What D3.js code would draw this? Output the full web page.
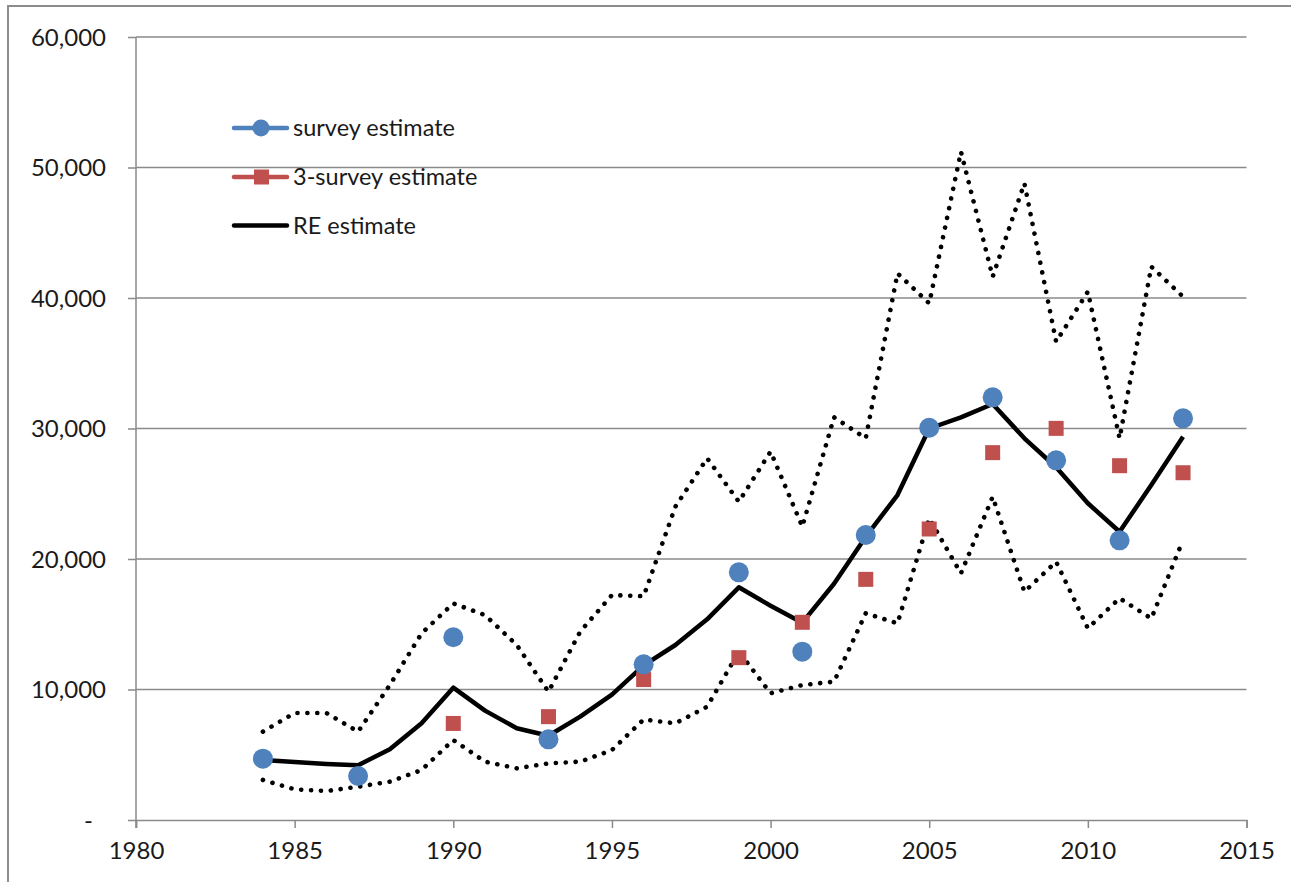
<!DOCTYPE html>
<html>
<head>
<meta charset="utf-8">
<script src="https://cdn.jsdelivr.net/npm/d3@7"></script>
<style>
  body { margin:0; background:#fff; }
  svg text { font-family: Lato, "Open Sans", sans-serif; fill:#1a1a1a; }
</style>
</head>
<body>
<script>
// survey estimate (blue dots)
var surveyYears = [1984,1987,1990,1993,1996,1999,2001,2003,2005,2007,2009,2011,2013]
var surveyVals  = [4700,3370,14000,6180,11930,18980,12900,21840,30060,32390,27560,21430,30780]

// 3-survey estimate (red squares)
var threeYears = [1990,1993,1996,1999,2001,2003,2005,2007,2009,2011,2013]
var threeVals  = [7400,7920,10760,12440,15150,18440,22300,28150,30010,27150,26610]

// RE estimate, yearly, with dotted bounds
var reYears = [1984,1985,1986,1987,1988,1989,1990,1991,1992,1993,1994,1995,1996,1997,1998,1999,
               2000,2001,2002,2003,2004,2005,2006,2007,2008,2009,2010,2011,2012,2013]
var reVals  = [4600,4450,4300,4200,5420,7410,10140,8380,7030,6460,7920,9600,11850,13410,15380,17830,
               16420,15120,18100,21710,24900,30000,30850,31880,29250,27030,24270,22090,25670,29370]
var reUpper = [6770,8200,8200,6770,10340,14300,16600,15700,13410,9830,14430,17240,17150,24010,27720,24390,
               28230,22480,30860,29250,41890,39590,51210,41630,48790,36650,40480,29250,42400,40100]
var reLower = [3070,2350,2220,2550,2940,3830,6130,4470,3960,4340,4470,5360,7700,7410,8680,12900,
               9710,10340,10600,15840,15070,23110,18900,24770,17490,19790,14690,16990,15440,21460]

var xTicks = [1980,1985,1990,1995,2000,2005,2010,2015]
var yTicks = [0,10000,20000,30000,40000,50000,60000]

var legendItems = ["survey estimate","3-survey estimate","RE estimate"]

var W = 1291, H = 882
var blue = "#4F81BD", red = "#C0504D"

var svg = d3.select("body").append("svg").attr("width",W).attr("height",H)

// outer chart frame
svg.append("rect").attr("x",8).attr("y",6).attr("width",W+20).attr("height",H+20)
  .attr("fill","none").attr("stroke","#8c8c8c").attr("stroke-width",2)

var x = d3.scaleLinear().domain([1980,2015]).range([136,1246.5])
var y = d3.scaleLinear().domain([0,60000]).range([820,37])

// gridlines
svg.append("g").selectAll("line").data(yTicks.slice(1)).enter().append("line")
  .attr("x1",x(1980)).attr("x2",x(2015))
  .attr("y1",function(d){return y(d)}).attr("y2",function(d){return y(d)})
  .attr("stroke","#8a8a8a").attr("stroke-width",1.3)

var fmt = d3.format(",")
var yAxis = d3.axisLeft(y).tickValues(yTicks).tickSize(8).tickPadding(22)
  .tickFormat(function(d){return d==0 ? "-" : fmt(d)})
var gy = svg.append("g").attr("transform","translate("+x(1980)+",0)").call(yAxis)
gy.selectAll("text").style("font-size","24px").attr("dy","0.35em").attr("dx", function(d){return d==0 ? "-13px" : 0})

var xAxis = d3.axisBottom(x).tickValues(xTicks).tickSize(8).tickPadding(14).tickFormat(d3.format("d"))
var gx = svg.append("g").attr("transform","translate(0,"+y(0)+")").call(xAxis)
gx.selectAll("text").style("font-size","24px")

svg.selectAll(".domain, .tick line").attr("stroke","#8a8a8a").attr("stroke-width",1.5)
gy.select(".domain").remove()
svg.append("line").attr("x1",x(1980)).attr("x2",x(1980)).attr("y1",y(60000)).attr("y2",y(0)+8)
  .attr("stroke","#8a8a8a").attr("stroke-width",1.5)

var line = d3.line().x(function(d){return x(d[0])}).y(function(d){return y(d[1])})

// dotted bounds
;[reUpper, reLower].forEach(function(arr){
  svg.append("path").datum(d3.zip(reYears,arr)).attr("d",line)
    .attr("fill","none").attr("stroke","#000").attr("stroke-width",4.6)
    .attr("stroke-linecap","round").attr("stroke-dasharray","0.1 9.8")
})

// RE estimate line
svg.append("path").datum(d3.zip(reYears,reVals)).attr("d",line)
  .attr("fill","none").attr("stroke","#000").attr("stroke-width",4.5)
  .attr("stroke-linejoin","round")

// 3-survey squares
svg.append("g").selectAll("rect").data(d3.zip(threeYears,threeVals)).enter().append("rect")
  .attr("x",function(d){return x(d[0])-7.5}).attr("y",function(d){return y(d[1])-7.5})
  .attr("width",15).attr("height",15).attr("fill",red)

// survey circles
svg.append("g").selectAll("circle").data(d3.zip(surveyYears,surveyVals)).enter().append("circle")
  .attr("cx",function(d){return x(d[0])}).attr("cy",function(d){return y(d[1])})
  .attr("r",10).attr("fill",blue)

// legend
var lg = svg.append("g")
var ly = [128,177,225.5]
legendItems.forEach(function(name,i){
  var col = [blue,red,"#000"][i]
  lg.append("line").attr("x1",234).attr("x2",287).attr("y1",ly[i]).attr("y2",ly[i])
    .attr("stroke",col).attr("stroke-width",4.5).attr("stroke-linecap","round")
  if(i==0) lg.append("circle").attr("cx",261).attr("cy",ly[i]).attr("r",8.5).attr("fill",col)
  if(i==1) lg.append("rect").attr("x",254).attr("y",ly[i]-7.5).attr("width",15).attr("height",15).attr("fill",col)
  lg.append("text").attr("x",293).attr("y",ly[i]).attr("dy","0.35em").style("font-size","23.5px").text(name)
})
</script>
</body>
</html>
